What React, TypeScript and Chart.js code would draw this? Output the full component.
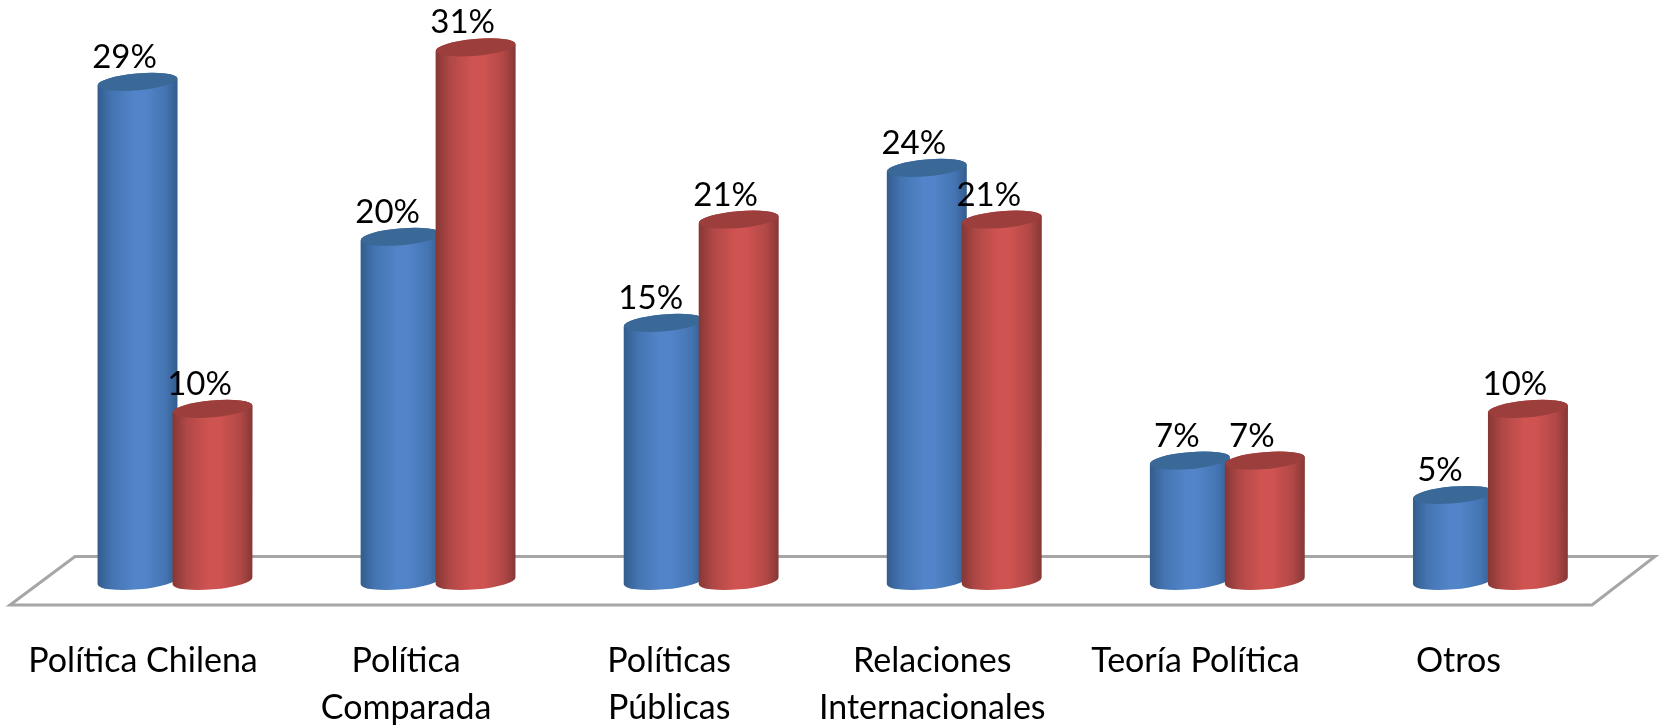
import React, { useEffect, useRef } from "react";
import { Chart, BarController, BarElement, registerables } from "chart.js";

const categories = [
  "Política Chilena",
  ["Política", "Comparada"],
  ["Políticas", "Públicas"],
  ["Relaciones", "Internacionales"],
  "Teoría Política",
  "Otros",
];
const seriesBlue = [29, 20, 15, 24, 7, 5];
const seriesRed = [10, 31, 21, 21, 7, 10];

const FONT = "Lato";
const BLUE = "#5184c8";
const RED = "#cf5351";
const palette: Record<string, { edge: string; mid: string; top: string }> = {
  [BLUE]: { edge: "#335c8c", mid: "#4474b2", top: "#3a6998" },
  [RED]: { edge: "#853735", mid: "#b04846", top: "#9c3f3c" },
};

const TILT = -0.087;
const RY = 8.4;

class CylinderElement extends BarElement {
  static id = "cylinder";
  draw(ctx: CanvasRenderingContext2D) {
    const { x, y, base, width } = this as any;
    const fill = (this as any).options.backgroundColor as string;
    const colors = palette[fill];
    const rx = width / 2;
    const dy = rx * Math.sin(TILT);
    const left = x - rx;
    const right = x + rx;
    ctx.save();
    const g = ctx.createLinearGradient(left, 0, right, 0);
    g.addColorStop(0, colors.edge);
    g.addColorStop(0.18, colors.mid);
    g.addColorStop(0.45, fill);
    g.addColorStop(0.6, fill);
    g.addColorStop(0.85, colors.mid);
    g.addColorStop(1, colors.edge);
    ctx.beginPath();
    ctx.moveTo(left, y - dy);
    ctx.lineTo(left, base - dy);
    ctx.ellipse(x, base, rx, RY, TILT, Math.PI, 0, true);
    ctx.lineTo(right, y + dy);
    ctx.ellipse(x, y, rx, RY, TILT, 0, Math.PI, true);
    ctx.closePath();
    ctx.fillStyle = g;
    ctx.fill();
    ctx.beginPath();
    ctx.ellipse(x, y, rx, RY, TILT, 0, Math.PI * 2);
    ctx.fillStyle = colors.top;
    ctx.fill();
    ctx.restore();
  }
}

class CylinderController extends BarController {
  static id = "cylinder";
  static defaults = { ...(BarController as any).defaults, dataElementType: "cylinder" };
  static overrides = (BarController as any).overrides;
}

Chart.register(...registerables, CylinderElement as any, CylinderController as any);

const floorPlugin = {
  id: "floor",
  beforeDatasetsDraw(chart: any) {
    const { ctx, chartArea, scales } = chart;
    const y0 = scales.y.getPixelForValue(0);
    const { left, right } = chartArea;
    ctx.save();
    ctx.strokeStyle = "#a6a6a6";
    ctx.lineWidth = 3;
    ctx.lineJoin = "miter";
    ctx.beginPath();
    ctx.moveTo(left - 33.5, y0 + 24);
    ctx.lineTo(left + 31.5, y0 - 24.5);
    ctx.lineTo(right + 33, y0 - 24.5);
    ctx.lineTo(right - 30, y0 + 24);
    ctx.closePath();
    ctx.stroke();
    ctx.restore();
  },
};

// Chart.js paints the last dataset first; the red cylinders must sit in front of the blue ones.
const paintOrder = {
  id: "paintOrder",
  beforeDatasetDraw(_chart: any, args: any) {
    if (args.index === 1) return false;
  },
  afterDatasetDraw(chart: any, args: any) {
    if (args.index === 0) chart.getDatasetMeta(1).controller.draw();
  },
};

const valueLabels = {
  id: "valueLabels",
  afterDatasetsDraw(chart: any) {
    const { ctx } = chart;
    ctx.save();
    ctx.font = `33px ${FONT}`;
    ctx.fillStyle = "#000";
    ctx.textAlign = "center";
    ctx.textBaseline = "alphabetic";
    chart.data.datasets.forEach((ds: any, i: number) => {
      chart.getDatasetMeta(i).data.forEach((el: any, j: number) => {
        ctx.fillText(`${ds.data[j]}%`, el.x - 13, el.y - 14);
      });
    });
    ctx.restore();
  },
};

export default function App() {
  const ref = useRef<HTMLCanvasElement>(null);
  useEffect(() => {
    document.body.style.margin = "0";
    document.body.style.background = "#fff";
    const chart = new Chart(ref.current!, {
      type: "cylinder" as any,
      data: {
        labels: categories as any,
        datasets: [
          { label: "A", data: seriesBlue, backgroundColor: BLUE, clip: false },
          { label: "B", data: seriesRed, backgroundColor: RED, clip: false },
        ],
      },
      options: {
        responsive: false,
        animation: false,
        layout: { padding: { left: 43.5, right: 37, top: 13, bottom: 0 } },
        plugins: { legend: { display: false }, tooltip: { enabled: false } },
        datasets: {
          cylinder: { categoryPercentage: 0.57, barPercentage: 1.067 },
        } as any,
        scales: {
          x: {
            type: "category",
            grid: { display: false, drawTicks: false },
            border: { display: false },
            afterFit(scale: any) {
              scale.height = 145;
            },
            ticks: {
              autoSkip: false,
              maxRotation: 0,
              minRotation: 0,
              color: "#000",
              padding: 56,
              labelOffset: -32,
              font: { family: FONT, size: 34, lineHeight: 1.4 },
            },
          },
          y: { display: false, min: 0, max: 33 },
        },
      } as any,
      plugins: [floorPlugin, paintOrder, valueLabels],
    });
    return () => chart.destroy();
  }, []);
  return (
    <canvas
      ref={ref}
      width={1659}
      height={726}
      style={{ display: "block", width: 1659, height: 726 }}
    />
  );
}
